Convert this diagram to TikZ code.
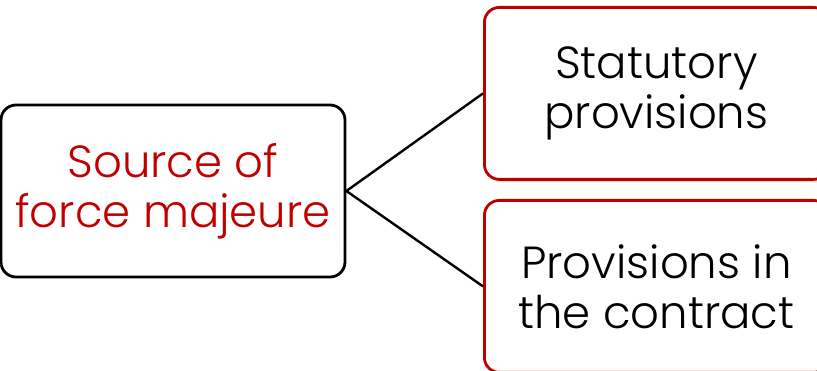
\documentclass[tikz,border=0pt]{standalone}
\usepackage{fontspec}
\setmainfont{Poppins}[UprightFont={* Light}]
\usetikzlibrary{positioning,shadows}
\definecolor{srcred}{RGB}{192,0,0}
\tikzset{
  basebox/.style={line width=2.8pt, rounded corners=15pt, minimum width=344pt,
    minimum height=172pt, align=center, font=\fontsize{45}{50}\selectfont},
  srcbox/.style={basebox, draw=black, text=srcred},
  provbox/.style={basebox, draw=srcred, fill=white, text=black,
    drop shadow={opacity=0.25, shadow xshift=2pt, shadow yshift=-3pt}},
}
\begin{document}
\begin{tikzpicture}[x=1pt,y=-1pt]
  \useasboundingbox (0,0) rectangle (817,371);
  % left: the source
  \node[srcbox] (source) at (173,191) {Source of\\force majeure};
  % right: the two kinds of provisions
  \node[provbox, anchor=north west] (statutory) at (483,6) {Statutory\\provisions};
  \node[provbox, anchor=north west] (contract) at (483,199) {Provisions in\\the contract};
  \foreach \p in {statutory,contract}
    \draw[line width=2.4pt] (source.east) -- (\p.west);
\end{tikzpicture}
\end{document}
